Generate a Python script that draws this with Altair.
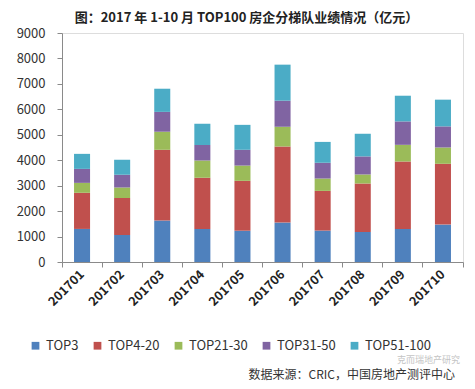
import altair as alt
import pandas as pd

months = ["201701", "201702", "201703", "201704", "201705",
          "201706", "201707", "201708", "201709", "201710"]
series = ["TOP3", "TOP4-20", "TOP21-30", "TOP31-50", "TOP51-100"]
top3 = [1300, 1065, 1630, 1300, 1230, 1550, 1235, 1180, 1300, 1470]
top4_20 = [1420, 1455, 2780, 2010, 1960, 2990, 1560, 1905, 2650, 2390]
top21_30 = [390, 405, 710, 680, 600, 775, 485, 355, 655, 640]
top31_50 = [550, 500, 780, 610, 620, 1025, 620, 710, 920, 830]
top51_100 = [590, 590, 910, 830, 980, 1416, 820, 890, 1010, 1050]
colors = ["#4F81BD", "#C0504D", "#9BBB59", "#8064A2", "#4BACC6"]
title_text = "图：2017 年 1-10 月 TOP100 房企分梯队业绩情况（亿元）"
source_text = "数据来源：CRIC，中国房地产测评中心"
watermark_text = "克而瑞地产研究"

vals = [top3, top4_20, top21_30, top31_50, top51_100]
rows = []
for si, (s, v) in enumerate(zip(series, vals)):
    for m, x in zip(months, v):
        rows.append({"month": m, "series": s, "value": x, "idx": si})
df = pd.DataFrame(rows)

FONT = "Noto Sans CJK SC"
W, H = 401, 229
xscale = alt.Scale(paddingInner=0, paddingOuter=0)

bars = alt.Chart(df).mark_bar(width={"band": 0.4}).encode(
    x=alt.X("month:N", sort=months, title=None, scale=xscale,
            axis=alt.Axis(orient="bottom", ticks=False,
                          labelAngle=-45, labelAlign="right", labelBaseline="middle",
                          labelFontWeight="bold", labelFontSize=12.5,
                          labelColor="#222222", labelFont=FONT, domainColor="#8a8a8a",
                          labelPadding=10, grid=False)),
    y=alt.Y("value:Q", stack="zero", title=None,
            scale=alt.Scale(domain=[0, 9000], nice=False),
            axis=alt.Axis(values=list(range(0, 9001, 1000)), grid=False, format="d",
                          labelFontSize=13, labelColor="#333333", labelFont=FONT,
                          domainColor="#8a8a8a", tickColor="#8a8a8a", tickSize=5,
                          labelPadding=12)),
    color=alt.Color("series:N", sort=series,
                    scale=alt.Scale(domain=series, range=colors),
                    legend=alt.Legend(title=None, orient="none", direction="horizontal",
                                      legendX=-33, legendY=306, symbolType="square",
                                      symbolSize=60, symbolStrokeWidth=0,
                                      labelFontSize=13, labelColor="#333333",
                                      labelFont=FONT, columnPadding=12,
                                      symbolOffset=0, labelOffset=4)),
    order=alt.Order("idx:Q", sort="ascending"),
)

ticks = alt.Chart(df).mark_bar(opacity=0).encode(
    x=alt.X("month:N", sort=months, title=None, scale=xscale,
            axis=alt.Axis(orient="bottom", bandPosition=1, tickExtra=True,
                          labels=False, domain=False, tickColor="#8a8a8a",
                          tickSize=5, grid=False)),
)

src = alt.Chart(pd.DataFrame({"t": [source_text]})).mark_text(
    align="right", baseline="middle", fontSize=12, font=FONT, color="#333333"
).encode(text="t:N", x=alt.value(393), y=alt.value(342))

wm = alt.Chart(pd.DataFrame({"t": [watermark_text]})).mark_text(
    align="right", baseline="middle", fontSize=9, font=FONT, color="#c4c4c4"
).encode(text="t:N", x=alt.value(398), y=alt.value(327))

chart = alt.layer(bars, ticks, src, wm).resolve_axis(x="independent").properties(
    width=W, height=H,
    title=alt.Title(title_text, fontSize=13, font=FONT, fontWeight="bold",
                    color="#222222", anchor="middle", dx=-16, offset=2),
    autosize=alt.AutoSizeParams(type="none"),
    padding={"left": 54, "top": 25, "right": 4, "bottom": 119},
).configure_view(stroke=None).configure(background="white")

chart.save("out.html", embed_options={"renderer": "svg", "actions": False})
